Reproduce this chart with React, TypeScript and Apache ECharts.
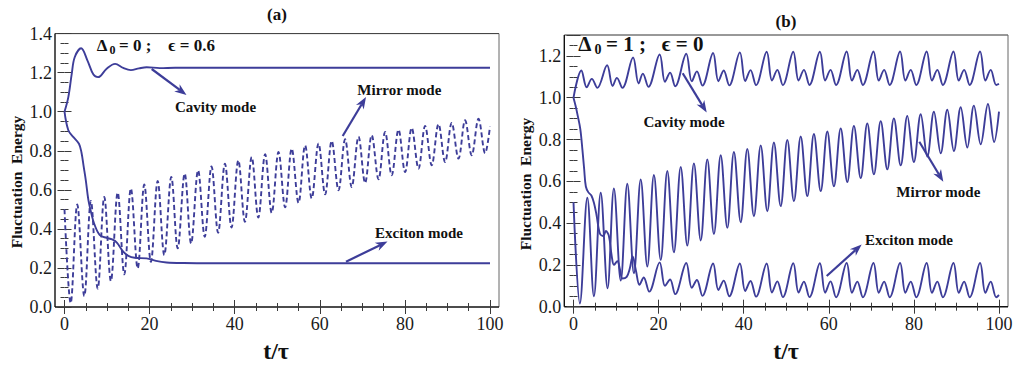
import React, { useEffect, useRef } from 'react';
import * as echarts from 'echarts';

// ---------- data ----------
const xTickValues = [0, 20, 40, 60, 80, 100];
const yTicksA = [0, 0.2, 0.4, 0.6, 0.8, 1.0, 1.2, 1.4];
const yTicksB = [0, 0.2, 0.4, 0.6, 0.8, 1.0, 1.2];

// Panel (a): Δ0 = 0, ϵ = 0.6
const cavityA: [number, number][] = [
  [0, 1.0], [0.9, 1.075], [1.7, 1.194], [2.4, 1.279], [3.9, 1.325], [5.4, 1.262], [6.8, 1.19],
  [7.9, 1.177], [9.9, 1.22], [11.9, 1.245], [13.8, 1.224], [15.6, 1.213], [17.5, 1.222],
  [19.3, 1.228], [22.4, 1.223], [26, 1.225], [32, 1.225], [45, 1.225], [60, 1.225],
  [75, 1.225], [90, 1.225], [100, 1.225],
];
const excitonA: [number, number][] = [
  [0, 1.0], [0.9, 0.905], [2.1, 0.87], [3.4, 0.836], [4.0, 0.79], [4.5, 0.72], [5.0, 0.65],
  [5.6, 0.55], [6.3, 0.48], [7.0, 0.425], [8.3, 0.368], [9.9, 0.354], [11.2, 0.346],
  [12.3, 0.33], [13.8, 0.283], [15.0, 0.262], [16.5, 0.252], [19.3, 0.249], [21.5, 0.236],
  [24, 0.228], [28, 0.225], [35, 0.224], [50, 0.224], [70, 0.224], [85, 0.224], [100, 0.224],
];
const mirrorA: [number, number][] = [
  [0, 0.5], [1.45, 0.02], [3.0, 0.525], [4.65, 0.056], [6.2, 0.543], [7.8, 0.094], [9.35, 0.564],
  [10.9, 0.133], [12.5, 0.586], [14.05, 0.167], [15.6, 0.607], [17.2, 0.198], [18.75, 0.627],
  [20.3, 0.231], [21.9, 0.645], [23.45, 0.266], [25.1, 0.666], [26.6, 0.3], [28.25, 0.683],
  [29.75, 0.325], [31.4, 0.7], [32.95, 0.36], [34.55, 0.72], [36.1, 0.38], [37.7, 0.734],
  [39.25, 0.407], [40.85, 0.751], [42.4, 0.436], [44.0, 0.768], [45.55, 0.458], [47.15, 0.782],
  [48.7, 0.482], [50.3, 0.794], [51.85, 0.51], [53.4, 0.811], [55.0, 0.533], [56.55, 0.828],
  [58.1, 0.556], [59.7, 0.838], [61.25, 0.577], [62.8, 0.85], [64.4, 0.598], [65.95, 0.859],
  [67.5, 0.614], [69.1, 0.872], [70.65, 0.635], [72.2, 0.88], [73.8, 0.654], [75.35, 0.896],
  [76.9, 0.675], [78.5, 0.908], [80.05, 0.691], [81.6, 0.917], [83.2, 0.709], [84.75, 0.927],
  [86.3, 0.726], [87.9, 0.937], [89.45, 0.742], [91.0, 0.943], [92.6, 0.76], [94.15, 0.956],
  [95.7, 0.777], [97.3, 0.964], [98.85, 0.788], [100, 0.925],
];

// Panel (b): Δ0 = 1, ϵ = 0
const cavityB: [number, number][] = [
  [0, 1.0], [1.85, 1.13], [3.1, 1.05], [4.3, 1.09], [5.6, 1.047], [7.9, 1.155], [9.2, 1.056],
  [10.2, 1.095], [11.5, 1.047], [14.0, 1.192], [15.3, 1.068], [16.3, 1.115], [17.6, 1.052],
  [20.25, 1.207], [21.5, 1.076], [22.7, 1.12], [23.9, 1.055], [26.5, 1.21], [27.8, 1.078],
  [29.0, 1.126], [30.3, 1.058], [32.8, 1.214], [34.05, 1.079], [35.3, 1.13], [36.6, 1.059],
  [39.1, 1.217], [40.35, 1.08], [41.6, 1.132], [42.9, 1.06], [45.4, 1.22], [46.65, 1.082],
  [47.9, 1.133], [49.2, 1.06], [51.65, 1.22], [52.9, 1.082], [54.15, 1.133], [55.45, 1.061],
  [57.9, 1.22], [59.15, 1.082], [60.4, 1.133], [61.7, 1.061], [64.2, 1.221], [65.45, 1.082],
  [66.7, 1.133], [68.0, 1.061], [70.5, 1.221], [71.75, 1.082], [73.0, 1.133], [74.3, 1.061],
  [76.75, 1.221], [78.0, 1.082], [79.25, 1.133], [80.55, 1.061], [83.0, 1.221], [84.25, 1.082],
  [85.5, 1.133], [86.8, 1.061], [89.3, 1.221], [90.55, 1.082], [91.8, 1.133], [93.1, 1.061],
  [95.55, 1.221], [96.8, 1.082], [98.05, 1.133], [99.35, 1.061], [100, 1.066],
];
const excitonB: [number, number][] = [
  [0, 1.0], [0.5, 0.96], [1.0, 0.913], [1.6, 0.85], [2.1, 0.75], [2.5, 0.66], [2.9, 0.575],
  [3.5, 0.547], [4.2, 0.532], [4.8, 0.497], [5.4, 0.44], [6.2, 0.35], [7.0, 0.338], [7.6, 0.362],
  [8.3, 0.34], [9.0, 0.24], [9.5, 0.2], [10.3, 0.218], [10.9, 0.18], [11.5, 0.135], [12.5, 0.143],
  [13.2, 0.18], [13.9, 0.24], [14.7, 0.17], [15.5, 0.105], [16.5, 0.14], [17.8, 0.072],
  [20.25, 0.212], [21.5, 0.1], [22.7, 0.13], [23.9, 0.06], [26.5, 0.209], [27.8, 0.09],
  [29.0, 0.128], [30.3, 0.052], [32.8, 0.207], [34.05, 0.08], [35.3, 0.125], [36.6, 0.05],
  [39.1, 0.207], [40.35, 0.075], [41.6, 0.123], [42.9, 0.048], [45.4, 0.207], [46.65, 0.068],
  [47.9, 0.121], [49.2, 0.046], [51.65, 0.208], [52.9, 0.068], [54.15, 0.12], [55.45, 0.046],
  [57.9, 0.208], [59.15, 0.067], [60.4, 0.121], [61.7, 0.045], [64.2, 0.209], [65.45, 0.067],
  [66.7, 0.12], [68.0, 0.045], [70.5, 0.209], [71.75, 0.067], [73.0, 0.12], [74.3, 0.045],
  [76.75, 0.209], [78.0, 0.067], [79.25, 0.12], [80.55, 0.045], [83.0, 0.209], [84.25, 0.066],
  [85.5, 0.12], [86.8, 0.045], [89.3, 0.209], [90.55, 0.066], [91.8, 0.12], [93.1, 0.045],
  [95.55, 0.209], [96.8, 0.066], [98.05, 0.12], [99.35, 0.045], [100, 0.056],
];
const mirrorB: [number, number][] = [
  [0, 0.5], [1.5, 0.015], [3.25, 0.521], [4.8, 0.05], [6.4, 0.545], [8.0, 0.088], [9.5, 0.566],
  [11.1, 0.125], [12.65, 0.588], [14.2, 0.16], [15.8, 0.609], [17.35, 0.192], [18.9, 0.63],
  [20.5, 0.224], [22.05, 0.649], [23.6, 0.26], [25.2, 0.669], [26.75, 0.292], [28.3, 0.686],
  [29.9, 0.317], [31.45, 0.705], [33.0, 0.348], [34.6, 0.725], [36.15, 0.377], [37.7, 0.74],
  [39.3, 0.404], [40.85, 0.755], [42.4, 0.433], [44.0, 0.772], [45.55, 0.457], [47.1, 0.786],
  [48.7, 0.481], [50.25, 0.798], [51.8, 0.505], [53.4, 0.814], [54.95, 0.529], [56.5, 0.826],
  [58.1, 0.553], [59.65, 0.838], [61.2, 0.576], [62.8, 0.853], [64.35, 0.597], [65.9, 0.865],
  [67.5, 0.615], [69.05, 0.877], [70.6, 0.633], [72.2, 0.888], [73.75, 0.657], [75.3, 0.901],
  [76.9, 0.676], [78.45, 0.913], [80.0, 0.692], [81.6, 0.921], [83.15, 0.718], [84.7, 0.933],
  [86.3, 0.734], [87.85, 0.942], [89.4, 0.745], [91.0, 0.954], [92.55, 0.762], [94.1, 0.962],
  [95.7, 0.777], [97.4, 0.97], [98.85, 0.788], [100, 0.933],
];

// ---------- styling ----------
const SERIF = 'Liberation Serif, Times New Roman, DejaVu Serif, serif';
const LINE = '#3d3d99';
const TICK = '#3a3a3a';
const SMOOTH = 0.36;

function xAxisCfg(grid: number, pos: 'bottom' | 'top', labels: boolean) {
  return {
    type: 'value', gridIndex: grid, position: pos, min: 0, max: 100, interval: 20,
    axisLine: { show: false },
    axisTick: { show: true, inside: true, length: 7, lineStyle: { color: TICK, width: 1 } },
    minorTick: { show: true, splitNumber: 4, length: 4, lineStyle: { color: TICK, width: 1 } },
    splitLine: { show: false }, minorSplitLine: { show: false },
    axisLabel: {
      show: labels, fontFamily: 'Liberation Serif', fontSize: 18, color: '#1a1a1a', margin: 8,
      formatter: (v: number) => (xTickValues.includes(v) ? String(v) : ''),
    },
  };
}
function yAxisCfg(grid: number, pos: 'left' | 'right', max: number, offset: number, labels: boolean, ticks: number[]) {
  return {
    type: 'value', gridIndex: grid, position: pos, offset, min: 0, max, interval: 0.2,
    axisLine: { show: false },
    axisTick: { show: true, inside: true, length: 7, lineStyle: { color: TICK, width: 1 } },
    minorTick: { show: true, splitNumber: 4, length: 4, lineStyle: { color: TICK, width: 1 } },
    splitLine: { show: false }, minorSplitLine: { show: false },
    axisLabel: {
      show: labels, fontFamily: 'Liberation Serif', fontSize: 18, color: '#1a1a1a', margin: 3,
      formatter: (v: number) => (ticks.some((t) => Math.abs(t - v) < 1e-6) ? v.toFixed(1) : ''),
    },
  };
}

function arrow(x1: number, y1: number, x2: number, y2: number) {
  const dx = x2 - x1, dy = y2 - y1;
  const len = Math.sqrt(dx * dx + dy * dy);
  const ux = dx / len, uy = dy / len;
  const px = -uy, py = ux;
  const hl = 12, hw = 4.5;
  const bx = x2 - ux * hl, by = y2 - uy * hl;
  const nx = x2 - ux * hl * 0.7, ny = y2 - uy * hl * 0.7;
  return [
    { type: 'line', shape: { x1, y1, x2: nx, y2: ny }, style: { stroke: LINE, lineWidth: 2.2 }, z: 10 },
    {
      type: 'polygon',
      shape: { points: [[x2, y2], [bx + px * hw, by + py * hw], [nx, ny], [bx - px * hw, by - py * hw]] },
      style: { fill: LINE }, z: 10,
    },
  ];
}

function txt(x: number, y: number, text: string, size: number, align = 'center', rotation = 0) {
  return {
    type: 'text', x, y, rotation, z: 20,
    style: {
      text, fill: '#111', font: `bold ${size}px ${SERIF}`,
      textAlign: align, textVerticalAlign: 'middle',
    },
  };
}

function frame(l: number, t: number, r: number, b: number) {
  return [
    { type: 'line', shape: { x1: l, y1: t, x2: r, y2: t }, style: { stroke: '#333', lineWidth: 1 } },
    { type: 'line', shape: { x1: r, y1: t, x2: r, y2: b }, style: { stroke: '#666', lineWidth: 1 } },
    { type: 'line', shape: { x1: l, y1: t, x2: l, y2: b }, style: { stroke: '#111', lineWidth: 1.4 } },
    { type: 'line', shape: { x1: l, y1: b, x2: r, y2: b }, style: { stroke: '#111', lineWidth: 1.4 } },
  ];
}

function lineSeries(data: [number, number][], idx: number, dashed = false) {
  return {
    type: 'line', xAxisIndex: idx * 2, yAxisIndex: idx * 2, data, smooth: SMOOTH,
    symbol: 'none', showSymbol: false, silent: true,
    lineStyle: { color: LINE, width: 1.9, type: dashed ? [5, 3] : 'solid' },
  };
}

export default function App() {
  const ref = useRef<HTMLDivElement>(null);
  useEffect(() => {
    const chart = echarts.init(ref.current!, null, { renderer: 'svg' });
    const option = {
      animation: false,
      grid: [
        { left: 64.5, right: 526, top: 33.6, bottom: 59 },
        { left: 573.5, right: 17, top: 35, bottom: 59.3 },
      ],
      xAxis: [
        xAxisCfg(0, 'bottom', true), xAxisCfg(0, 'top', false),
        xAxisCfg(1, 'bottom', true), xAxisCfg(1, 'top', false),
      ],
      yAxis: [
        yAxisCfg(0, 'left', 1.4, 9.5, true, yTicksA), yAxisCfg(0, 'right', 1.4, 9, false, yTicksA),
        yAxisCfg(1, 'left', 1.3, 9.2, true, yTicksB), yAxisCfg(1, 'right', 1.3, 9, false, yTicksB),
      ],
      series: [
        lineSeries(cavityA, 0), lineSeries(excitonA, 0), lineSeries(mirrorA, 0, true),
        lineSeries(cavityB, 1), lineSeries(excitonB, 1), lineSeries(mirrorB, 1),
      ],
      graphic: [
        ...frame(55, 33.6, 499, 307),
        ...frame(564.3, 35, 1008, 306.7),
        txt(277, 14, '(a)', 17),
        txt(786, 21, '(b)', 17),
        txt(276, 351, 't/τ', 24),
        txt(786, 351, 't/τ', 24),
        txt(16, 182, 'Fluctuation  Energy', 15.5, 'center', Math.PI / 2),
        txt(525, 184, 'Fluctuation  Energy', 15.5, 'center', Math.PI / 2),
        // panel (a) parameters
        txt(96.7, 45, 'Δ', 17, 'left'),
        txt(109.5, 50, '0', 12, 'left'),
        txt(119, 45, '= 0 ;', 17, 'left'),
        txt(168.3, 45, 'ϵ = 0.6', 17, 'left'),
        // panel (b) parameters
        txt(578.3, 43.5, 'Δ', 21, 'left'),
        txt(594.5, 49, '0', 14, 'left'),
        txt(606, 43.5, '= 1 ;', 21, 'left'),
        txt(661.7, 43.5, 'ϵ = 0', 21, 'left'),
        // labels (a)
        txt(215.5, 107, 'Cavity mode', 15),
        txt(399.3, 90, 'Mirror mode', 15),
        txt(419, 232.7, 'Exciton mode', 15),
        ...arrow(151.7, 69, 186.5, 95),
        ...arrow(342.7, 136, 366, 97),
        ...arrow(346, 261.7, 387.5, 241.5),
        // labels (b)
        txt(684, 121.7, 'Cavity mode', 15),
        txt(938.3, 191.7, 'Mirror mode', 15),
        txt(909, 240, 'Exciton mode', 15),
        ...arrow(682.7, 73.3, 706.7, 112.5),
        ...arrow(919.3, 141.7, 943.3, 181.7),
        ...arrow(826.7, 276, 861.7, 244.5),
      ],
    };
    chart.setOption(option as any);
    return () => chart.dispose();
  }, []);
  return (
    <div
      ref={ref}
      style={{ position: 'fixed', left: 0, top: 0, width: 1016, height: 366, background: '#fff' }}
    />
  );
}
